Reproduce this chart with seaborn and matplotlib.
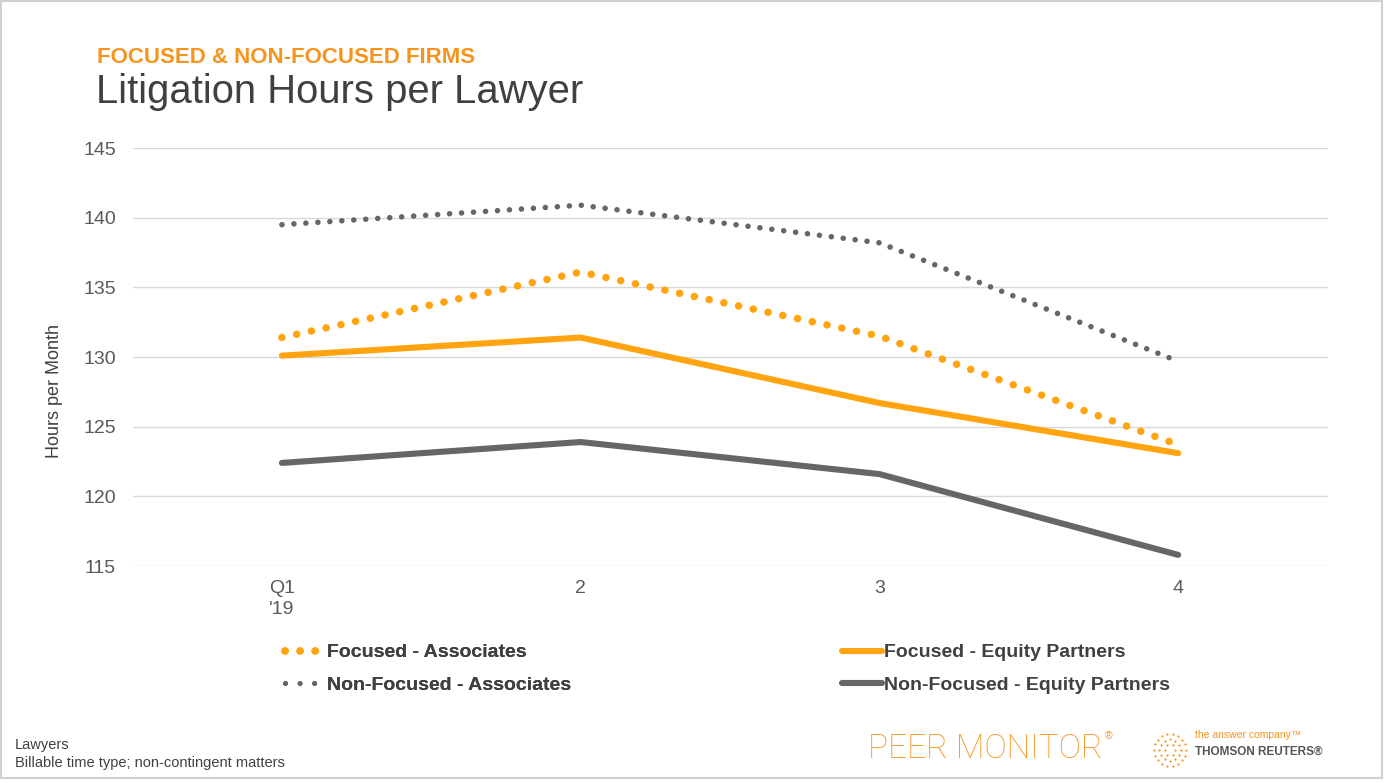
import numpy as np
import pandas as pd
import matplotlib
matplotlib.use("Agg")
import matplotlib.pyplot as plt
from matplotlib.lines import Line2D
from matplotlib.patches import Rectangle
import seaborn as sns

quarters = ["Q1\n'19", "2", "3", "4"]
focused_assoc = [131.4, 136.1, 131.5, 123.7]
focused_ep = [130.1, 131.4, 126.7, 123.1]
nonfocused_assoc = [139.5, 140.9, 138.2, 129.7]
nonfocused_ep = [122.4, 123.9, 121.6, 115.8]
yticks = [115, 120, 125, 130, 135, 140, 145]

ORANGE = "#FFA30F"
GRAY = "#666666"
TXT = "#404040"

sns.set_theme(style="white")
plt.rcParams["font.family"] = ["Liberation Sans", "DejaVu Sans"]

fig = plt.figure(figsize=(13.85, 7.83), dpi=100)
ax = fig.add_axes([0.0957, 0.2771, 0.8628, 0.5338])

x = np.arange(len(quarters))
series = [
    ("Focused - Associates", focused_assoc, ORANGE, 5.4, (0, (0.01, 2.0))),
    ("Focused - Equity Partners", focused_ep, ORANGE, 4.4, "-"),
    ("Non-Focused - Associates", nonfocused_assoc, GRAY, 4.0, (0, (0.01, 2.15))),
    ("Non-Focused - Equity Partners", nonfocused_ep, GRAY, 4.4, "-"),
]
for name, vals, col, lw, ls in series:
    sns.lineplot(x=x, y=vals, ax=ax, color=col, lw=lw, linestyle=ls,
                 dash_capstyle="round", solid_capstyle="round", clip_on=False)

ax.set_xlim(-0.5, len(quarters) - 0.5)
ax.set_ylim(115, 145)
ax.set_yticks(yticks)
ax.set_xticks(x)
ax.set_xticklabels(quarters, linespacing=1.35)
ax.grid(axis="y", color="#D9D9D9", lw=1)
ax.set_axisbelow(True)
for s in ax.spines.values():
    s.set_visible(False)
ax.tick_params(axis="both", colors="#595959", labelsize=14, length=0)
ax.tick_params(axis="y", pad=12)
ax.tick_params(axis="x", pad=10)
ax.set_ylabel("Hours per Month", fontsize=13, color=TXT)
ax.yaxis.set_label_coords(-0.058, 0.419)

# legend, two columns placed separately
def handle(col, lw, ls):
    return Line2D([], [], color=col, lw=lw, linestyle=ls,
                  dash_capstyle="round", solid_capstyle="round")

lkw = dict(frameon=False, handlelength=2.05, handletextpad=0.12, labelspacing=0.75,
           prop={"size": 14, "weight": "bold"}, labelcolor=TXT, loc="upper left",
           borderaxespad=0)
hs = [handle(c, lw, ls) for _, _, c, lw, ls in series]
hs[2] = handle(GRAY, 3.6, (0, (0.01, 2.9)))
labels = [s[0] for s in series]
leg1 = fig.legend([hs[0], hs[2]], [labels[0], labels[2]],
                  bbox_to_anchor=(277 / 1385, 1 - 636 / 783), **lkw)
fig.add_artist(leg1)
fig.legend([hs[1], hs[3]], [labels[1], labels[3]],
           bbox_to_anchor=(834 / 1385, 1 - 636 / 783), **lkw)

# titles
fig.text(97 / 1385, 1 - 63 / 783, "FOCUSED & NON-FOCUSED FIRMS", color="#F7941D",
         fontsize=16, fontweight="bold", va="baseline")
fig.text(96 / 1385, 1 - 103 / 783, "Litigation Hours per Lawyer", color=TXT,
         fontsize=28.8, va="baseline")

# footnotes
fig.text(15 / 1385, 1 - 749 / 783, "Lawyers", color=TXT, fontsize=10.5, va="baseline")
fig.text(15 / 1385, 1 - 767 / 783, "Billable time type; non-contingent matters",
         color=TXT, fontsize=10.5, va="baseline")

# logos
fig.text(868 / 1385, 1 - 758 / 783, "PEER MONITOR", color="#F7941D", fontsize=24,
         family="Roboto", fontweight="light", va="baseline")
fig.text(1105 / 1385, 1 - 739 / 783, "®", color="#F7941D", fontsize=7.5, va="baseline")
fig.text(1195 / 1385, 1 - 738 / 783, "the answer company\u2122", color="#F7941D",
         fontsize=7.5, va="baseline")
fig.text(1195 / 1385, 1 - 755 / 783, "THOMSON REUTERS\u00ae", color="#555555",
         fontsize=8.5, fontweight="bold", va="baseline")
lax = fig.add_axes([1152 / 1385, 1 - 768 / 783, 36 / 1385, 36 / 783])
for r, n in [(0.15, 6), (0.3, 12), (0.45, 18)]:
    ang = np.linspace(0, 2 * np.pi, n, endpoint=False)
    lax.scatter(r * np.cos(ang), r * np.sin(ang), s=2.5, color="#F7941D", lw=0)
lax.set_xlim(-0.5, 0.5)
lax.set_ylim(-0.5, 0.5)
lax.set_aspect("equal")
lax.axis("off")

fig.add_artist(Rectangle((0.001, 0.007), 0.997, 0.992, transform=fig.transFigure,
                         fill=False, edgecolor="#D0D0D0", lw=1.5))

fig.savefig("out.png", dpi=100, facecolor="white")
